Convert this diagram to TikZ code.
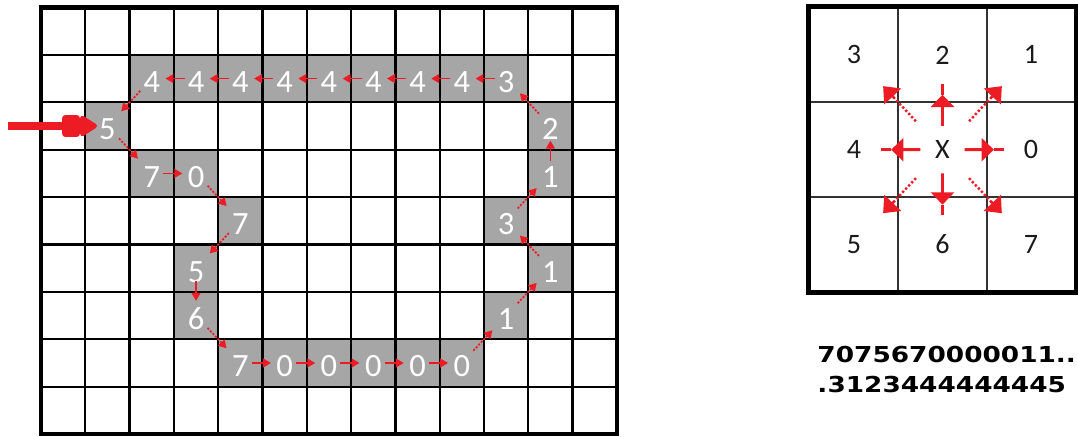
\documentclass[tikz,border=0pt]{standalone}
\usepackage{fontspec}
\setmainfont{Carlito}
\newfontfamily\codefont[FakeStretch=1.2]{DejaVu Sans}
\usepackage{xcolor}
\usepackage{tikz}
\usetikzlibrary{arrows.meta,calc}
\definecolor{ccred}{HTML}{ED1C24}
\definecolor{ccgrey}{HTML}{A6A6A6}
\definecolor{ccink}{HTML}{1A1A1A}

\begin{document}
\begin{tikzpicture}[x=0.886cm,y=-0.948cm,
      cell/.style={fill=ccgrey,minimum width=0.886cm,minimum height=0.948cm,inner sep=0pt,
                   text=white,font=\fontsize{18.5}{20}\selectfont,text height=0.56cm,text depth=0pt},
      kcell/.style={draw=black!80,line width=1pt,minimum width=1.772cm,minimum height=1.896cm,
                    inner sep=0pt,text=ccink,font=\fontsize{16}{18}\selectfont},
      gline/.style={line width=1.3pt},
      frame/.style={line width=2.6pt},
      arr/.style={-{Triangle[length=4.5pt,width=5pt]},line width=1pt,ccred},
      darr/.style={arr,dash pattern=on 1.2pt off 0.9pt},
      karr/.style={-{Triangle[length=7pt,width=13pt]},line width=1.7pt,ccred},
      kline/.style={line width=1.7pt,ccred},
      kdots/.style={line width=1.4pt,ccred,dash pattern=on 1.3pt off 1.2pt},
      khead/.style={-{Triangle[length=8pt,width=13pt]},line width=1.4pt,ccred},
      startarr/.style={-{Rectangle[length=10pt,width=13pt,round,sep=0pt]Triangle[length=11pt,width=13pt,round]},
                       line width=4pt,ccred},
      code/.style={inner sep=0pt,text=black,font=\codefont\bfseries\fontsize{12.5}{14}\selectfont}]
    \useasboundingbox (-0.9255,-0.158) rectangle (23.409,9.061);
    \foreach \cx/\cy/\d [count=\i from 0] in {1/2/5,2/3/7,3/3/0,4/4/7,3/5/5,3/6/6,4/7/7,5/7/0,6/7/0,
        7/7/0,8/7/0,9/7/0,10/6/1,11/5/1,10/4/3,11/3/1,11/2/2,10/1/3,9/1/4,8/1/4,7/1/4,6/1/4,5/1/4,4/1/4,3/1/4,2/1/4}
      \node[cell] (c\i) at (\cx+0.5,\cy+0.5) {\d};
    \foreach \i in {1,...,12} \draw[gline] (\i,0) -- (\i,9);
    \foreach \j in {1,...,8} \draw[gline] (0,\j) -- (13,\j);
    \draw[frame] (0,0) rectangle (13,9);
    \foreach \d [count=\i from 0] in {7,0,7,5,6,7,0,0,0,0,0,1,1,3,1,2,3,4,4,4,4,4,4,4,4,5} {
      \pgfmathtruncatemacro\j{mod(\i+1,26)}
      \ifodd\d \def\astyle{darr}\else\def\astyle{arr}\fi
      \draw[\astyle] ($(c\i)!0.26!(c\j)$) -- ($(c\i)!0.69!(c\j)$);
    }
    \coordinate (start) at (-0.745,2.5);
    \draw[startarr] (start) -- ([xshift=0.24cm]c0.west);
    \node[kcell] (k3) at (18.35,1) {3};
    \node[kcell] (k2) at (20.35,1) {2};
    \node[kcell] (k1) at (22.35,1) {1};
    \node[kcell] (k4) at (18.35,3) {4};
    \node[kcell] (kx) at (20.35,3) {X};
    \node[kcell] (k0) at (22.35,3) {0};
    \node[kcell] (k5) at (18.35,5) {5};
    \node[kcell] (k6) at (20.35,5) {6};
    \node[kcell] (k7) at (22.35,5) {7};
    \draw[frame] (k3.north west) rectangle (k7.south east);
    \foreach \k in {0,2,4,6} {
      \draw[karr] ($(kx)!0.25!(k\k)$) -- ($(kx)!0.58!(k\k)$);
      \draw[kline] ($(kx)!0.58!(k\k)$) -- ($(kx)!0.69!(k\k)$);
    }
    \foreach \k in {1,3,5,7} {
      \draw[kdots] ($(kx)!0.3!(k\k)$) -- ($(kx)!0.56!(k\k)$);
      \draw[khead] ($(kx)!0.55!(k\k)$) -- ($(kx)!0.67!(k\k)$);
    }
    \node[code,anchor=base west] (seq1) at (17.52,7.5) {7075670000011..};
    \node[code,anchor=base west] (seq2) at (17.52,8.13) {.3123444444445};
  \end{tikzpicture}
\end{document}
